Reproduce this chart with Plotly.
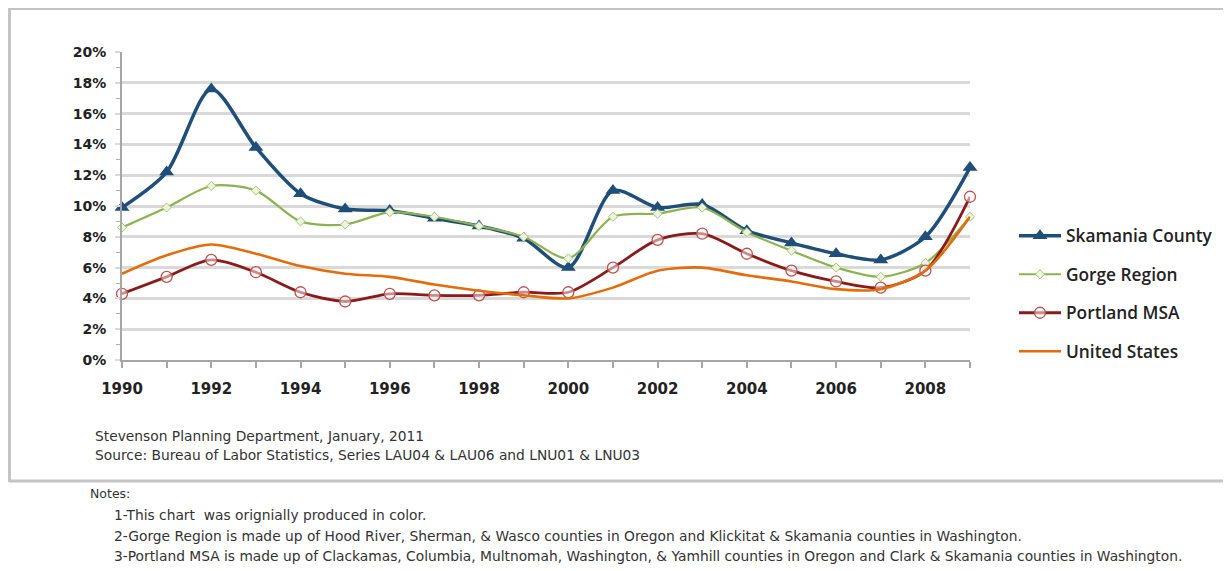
import plotly.graph_objects as go

years = list(range(1990, 2010))
skamania = [9.9, 12.2, 17.6, 13.8, 10.8, 9.8, 9.7, 9.2, 8.7, 7.9, 6.0, 11.0, 9.9, 10.1, 8.4, 7.6, 6.9, 6.5, 8.0, 12.5]
gorge = [8.6, 9.9, 11.3, 11.0, 9.0, 8.8, 9.6, 9.3, 8.7, 8.0, 6.6, 9.3, 9.5, 9.9, 8.3, 7.1, 6.0, 5.4, 6.3, 9.3]
portland = [4.3, 5.4, 6.5, 5.7, 4.4, 3.8, 4.3, 4.2, 4.2, 4.4, 4.4, 6.0, 7.8, 8.2, 6.9, 5.8, 5.1, 4.7, 5.8, 10.6]
us = [5.6, 6.8, 7.5, 6.9, 6.1, 5.6, 5.4, 4.9, 4.5, 4.2, 4.0, 4.7, 5.8, 6.0, 5.5, 5.1, 4.6, 4.6, 5.8, 9.3]

series_names = ["Skamania County", "Gorge Region", "Portland MSA", "United States"]
x_ticks = list(range(1990, 2010, 2))
y_ticks = list(range(0, 21, 2))

source_lines = [
    "Stevenson Planning Department, January, 2011",
    "Source: Bureau of Labor Statistics, Series LAU04 & LAU06 and LNU01 & LNU03",
]
notes_lines = [
    "1-This chart  was orignially produced in color.",
    "2-Gorge Region is made up of Hood River, Sherman, & Wasco counties in Oregon and Klickitat & Skamania counties in Washington.",
    "3-Portland MSA is made up of Clackamas, Columbia, Multnomah, Washington, & Yamhill counties in Oregon and Clark & Skamania counties in Washington.",
]

# window size and page offset (default body margin of the html page)
WIN_W, WIN_H = 1231, 571
OFF = 8
L, R, T, B = 122, 970, 52, 360   # plot area in window pixels


def px(x):
    return (x - L) / (R - L)


def py(y):
    return (B - y) / (B - T)


fig = go.Figure()
fig.add_trace(go.Scatter(
    x=years, y=skamania, name=series_names[0], mode="lines+markers", legendgroup="a",
    line=dict(color="#1f4e79", width=3.5, shape="spline", smoothing=0.8),
    marker=dict(symbol="triangle-up", size=13, color="#1f4e79"), cliponaxis=False))
fig.add_trace(go.Scatter(
    x=years, y=gorge, name=series_names[1], mode="lines+markers", legendgroup="b",
    line=dict(color="#8cb34f", width=2.2, shape="spline", smoothing=0.8),
    marker=dict(symbol="diamond", size=7, color="#edf3e0", line=dict(color="#a9c774", width=1)),
    cliponaxis=False))
fig.add_trace(go.Scatter(
    x=years, y=portland, name=series_names[2], mode="lines+markers", legendgroup="c",
    line=dict(color="#8b1a1a", width=2.8, shape="spline", smoothing=0.8),
    marker=dict(symbol="circle", size=11, color="rgba(255,255,255,0.5)", line=dict(color="#c0504d", width=1.3)),
    cliponaxis=False))
fig.add_trace(go.Scatter(
    x=years, y=us, name=series_names[3], mode="lines", legendgroup="d",
    line=dict(color="#e46c0a", width=2.6, shape="spline", smoothing=0.8), cliponaxis=False))

shapes = [
    dict(type="line", xref="paper", yref="paper", x0=px(9), x1=px(1240), y0=py(8.5), y1=py(8.5),
         line=dict(color="#c4c4c4", width=3)),
    dict(type="line", xref="paper", yref="paper", x0=px(9.5), x1=px(9.5), y0=py(8), y1=py(482),
         line=dict(color="#c4c4c4", width=3)),
    dict(type="line", xref="paper", yref="paper", x0=px(9), x1=px(1240), y0=py(481), y1=py(481),
         line=dict(color="#c4c4c4", width=3)),
]

txt_font = dict(family="DejaVu Sans", size=13.8, color="#333333")
annotations = []
for i, t in enumerate(source_lines):
    annotations.append(dict(text=t, xref="paper", yref="paper", x=px(93), y=py(436 + 19 * i),
                            xanchor="left", yanchor="middle", showarrow=False, font=txt_font))
annotations.append(dict(text="Notes:", xref="paper", yref="paper", x=px(88), y=py(493),
                        xanchor="left", yanchor="middle", showarrow=False,
                        font=dict(family="DejaVu Sans", size=12.5, color="#333333")))
for i, t in enumerate(notes_lines):
    annotations.append(dict(text=t, xref="paper", yref="paper", x=px(112), y=py(515 + 20.5 * i),
                            xanchor="left", yanchor="middle", showarrow=False, font=txt_font))

fig.update_layout(
    width=WIN_W - OFF, height=WIN_H - OFF,
    margin=dict(l=L - OFF, r=WIN_W - R, t=T - OFF, b=WIN_H - B),
    paper_bgcolor="white", plot_bgcolor="white",
    showlegend=True,
    legend=dict(x=px(1014), y=py(218), xanchor="left", yanchor="top",
                traceorder="grouped", tracegroupgap=13, itemwidth=42,
                font=dict(family="Open Sans", size=17.3, color="#222222", weight=600),
                bgcolor="rgba(0,0,0,0)"),
    shapes=shapes, annotations=annotations,
    font=dict(family="DejaVu Sans", color="#222222"),
)
fig.update_xaxes(
    range=[1990, 2009], tickvals=x_ticks, ticktext=[str(v) for v in x_ticks],
    showgrid=False, showline=True, linecolor="#a6a6a6", linewidth=2,
    ticks="outside", ticklen=6, tickcolor="#a6a6a6", tickwidth=1.5,
    minor=dict(dtick=1, ticks="outside", ticklen=6, tickcolor="#a6a6a6", tickwidth=1.5, showgrid=False),
    tickfont=dict(family="DejaVu Sans", size=15, color="#222222", weight="bold"),
    ticklabelstandoff=8, zeroline=False,
)
fig.update_yaxes(
    range=[0, 20], tickvals=y_ticks, ticktext=[f"{v}%" for v in y_ticks],
    showgrid=True, gridcolor="#d9d9d9", gridwidth=2.5,
    showline=True, linecolor="#a6a6a6", linewidth=2,
    ticks="outside", ticklen=5, tickcolor="#d9d9d9", tickwidth=2,
    minor=dict(dtick=1, ticks="outside", ticklen=4, tickcolor="#b0b0b0", tickwidth=1, showgrid=False),
    tickfont=dict(family="DejaVu Sans", size=14, color="#222222", weight="bold"),
    ticklabelstandoff=6, zeroline=False,
)

fig.write_html("out.html")
